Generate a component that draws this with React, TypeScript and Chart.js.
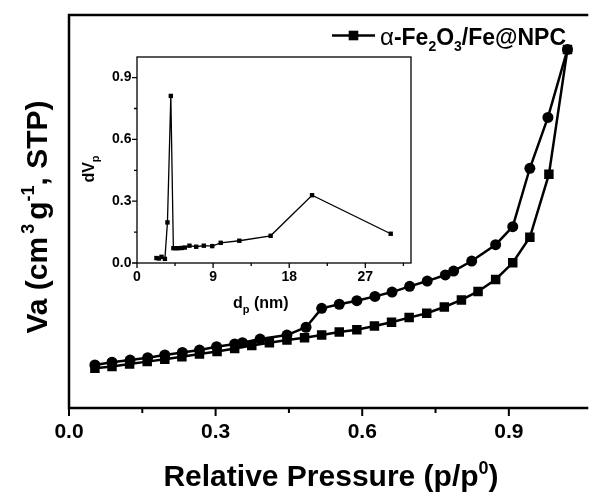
import React, { useEffect, useRef } from 'react';
import { Chart, registerables } from 'chart.js';

Chart.register(...registerables);

// ---- Main isotherm data (Relative pressure vs adsorbed volume) ----
const adsP = [0.053, 0.088, 0.124, 0.160, 0.196, 0.231, 0.267, 0.303, 0.339, 0.374, 0.410, 0.446, 0.482, 0.517, 0.553, 0.589, 0.625, 0.660, 0.696, 0.732, 0.768, 0.803, 0.837, 0.873, 0.908, 0.943, 0.982, 1.020];
const adsVa = [20.2, 21.1, 22.4, 23.6, 24.8, 26.1, 27.5, 28.7, 30.3, 31.8, 33.2, 34.6, 35.8, 37.1, 38.7, 39.8, 41.7, 43.6, 46.0, 48.2, 51.4, 55.0, 59.3, 65.4, 73.9, 86.9, 118.9, 182.5];
const desP = [0.053, 0.088, 0.125, 0.161, 0.196, 0.232, 0.267, 0.302, 0.339, 0.355, 0.391, 0.446, 0.485, 0.517, 0.553, 0.589, 0.626, 0.661, 0.697, 0.733, 0.770, 0.787, 0.824, 0.873, 0.908, 0.943, 0.980, 1.020];
const desVa = [21.9, 23.3, 24.4, 25.6, 27.0, 28.3, 29.5, 31.2, 32.6, 33.2, 35.1, 37.1, 41.1, 50.7, 52.8, 54.6, 56.8, 59.0, 61.9, 64.6, 67.7, 69.7, 74.8, 83.1, 92.3, 122.0, 147.9, 182.5];
const mainXTicks = [0, 0.3, 0.6, 0.9];
const mainXMinor = [0.15, 0.45, 0.75];

// ---- Inset pore size distribution ----
const poreD = [2.3, 2.6, 2.9, 3.3, 3.6, 4.0, 4.3, 4.6, 4.9, 5.3, 5.65, 6.2, 7.0, 7.9, 8.9, 9.9, 12.1, 15.8, 20.7, 30.0];
const poreDV = [0.024, 0.022, 0.03, 0.02, 0.197, 0.811, 0.072, 0.072, 0.072, 0.073, 0.075, 0.084, 0.079, 0.084, 0.082, 0.098, 0.108, 0.132, 0.329, 0.142];
const insetXTicks = [0, 9, 18, 27];
const insetXMinor = [4.5, 13.5, 22.5, 31.5];
const insetYTicks = [0, 0.3, 0.6, 0.9];
const insetYMinor = [0.15, 0.45, 0.75];

const FONT = '"Liberation Sans", Arial, Helvetica, sans-serif';

type Seg = { t: string; size: number; dy?: number; weight?: string; gap?: number };

function segFont(s: Seg) {
  return `${s.weight ?? 'bold'} ${s.size}px ${FONT}`;
}
function richWidth(ctx: CanvasRenderingContext2D, segs: Seg[]) {
  let w = 0;
  for (const s of segs) {
    ctx.font = segFont(s);
    w += ctx.measureText(s.t).width + (s.gap ?? 0);
  }
  return w;
}
function drawRich(ctx: CanvasRenderingContext2D, segs: Seg[], x: number, y: number, opts: { rotate?: boolean; align?: 'center' | 'left' } = {}) {
  ctx.save();
  ctx.translate(x, y);
  if (opts.rotate) ctx.rotate(-Math.PI / 2);
  const w = richWidth(ctx, segs);
  let cx = (opts.align ?? 'center') === 'center' ? -w / 2 : 0;
  ctx.textBaseline = 'alphabetic';
  ctx.textAlign = 'left';
  ctx.fillStyle = '#000';
  for (const s of segs) {
    ctx.font = segFont(s);
    ctx.fillText(s.t, cx, s.dy ?? 0);
    cx += ctx.measureText(s.t).width + (s.gap ?? 0);
  }
  ctx.restore();
}

const mainDecor = {
  id: 'mainDecor',
  afterDraw(chart: any) {
    const { ctx, chartArea: a, scales } = chart;
    const xs = scales.x;
    ctx.save();
    ctx.strokeStyle = '#000';
    ctx.lineWidth = 2.5;
    ctx.lineCap = 'butt';
    // frame: left, bottom, top
    ctx.beginPath();
    ctx.moveTo(a.left, a.top);
    ctx.lineTo(a.left, a.bottom);
    ctx.moveTo(a.left - 1.25, a.bottom);
    ctx.lineTo(a.right, a.bottom);
    ctx.moveTo(a.left - 1.25, a.top);
    ctx.lineTo(a.right, a.top);
    ctx.stroke();
    // ticks
    ctx.lineWidth = 2;
    ctx.beginPath();
    for (const v of mainXTicks) {
      const px = xs.getPixelForValue(v);
      ctx.moveTo(px, a.bottom);
      ctx.lineTo(px, a.bottom + 8);
    }
    for (const v of mainXMinor) {
      const px = xs.getPixelForValue(v);
      ctx.moveTo(px, a.bottom);
      ctx.lineTo(px, a.bottom + 5);
    }
    ctx.stroke();
    // legend
    ctx.lineWidth = 2.5;
    ctx.beginPath();
    ctx.moveTo(332, 35.5);
    ctx.lineTo(375, 35.5);
    ctx.stroke();
    ctx.fillStyle = '#000';
    ctx.fillRect(353.5 - 4.8, 35.5 - 4.8, 9.6, 9.6);
    drawRich(ctx, [
      { t: 'α', size: 24, weight: 'normal' },
      { t: '-Fe', size: 23 },
      { t: '2', size: 14, dy: 6 },
      { t: 'O', size: 23 },
      { t: '3', size: 14, dy: 6 },
      { t: '/Fe@NPC', size: 23 },
    ], 380, 44.5, { align: 'left' });
    // axis titles
    drawRich(ctx, [
      { t: 'Relative Pressure (p/p', size: 30 },
      { t: '0', size: 18, dy: -12 },
      { t: ')', size: 30 },
    ], 331, 486);
    drawRich(ctx, [
      { t: 'Va (cm', size: 30, gap: 3 },
      { t: '3', size: 18, dy: -13, gap: 4 },
      { t: 'g', size: 30 },
      { t: '-1', size: 18, dy: -13 },
      { t: ', STP)', size: 30 },
    ], 47, 217, { rotate: true });
    ctx.restore();
  },
};

const insetDecor = {
  id: 'insetDecor',
  afterDraw(chart: any) {
    const { ctx, chartArea: a, scales } = chart;
    const xs = scales.x;
    const ys = scales.y;
    ctx.save();
    ctx.strokeStyle = '#000';
    ctx.lineWidth = 1.3;
    ctx.strokeRect(a.left, a.top, a.right - a.left, a.bottom - a.top);
    ctx.beginPath();
    for (const v of insetXTicks) {
      const px = xs.getPixelForValue(v);
      ctx.moveTo(px, a.bottom);
      ctx.lineTo(px, a.bottom + 5);
    }
    for (const v of insetXMinor) {
      const px = xs.getPixelForValue(v);
      ctx.moveTo(px, a.bottom);
      ctx.lineTo(px, a.bottom + 3);
    }
    for (const v of insetYTicks) {
      const py = ys.getPixelForValue(v);
      ctx.moveTo(a.left, py);
      ctx.lineTo(a.left - 5, py);
    }
    for (const v of insetYMinor) {
      const py = ys.getPixelForValue(v);
      ctx.moveTo(a.left, py);
      ctx.lineTo(a.left - 3, py);
    }
    ctx.stroke();
    drawRich(ctx, [
      { t: 'd', size: 16 },
      { t: 'p', size: 11, dy: 5 },
      { t: ' (nm)', size: 16 },
    ], 233, 308, { align: 'left' });
    drawRich(ctx, [
      { t: 'dV', size: 16 },
      { t: 'p', size: 11, dy: 5 },
    ], 94, 169, { rotate: true });
    ctx.restore();
  },
};

export default function App() {
  const mainRef = useRef<HTMLCanvasElement>(null);
  const insetRef = useRef<HTMLCanvasElement>(null);

  useEffect(() => {
    const main = new Chart(mainRef.current as HTMLCanvasElement, {
      type: 'line',
      data: {
        datasets: [
          {
            label: 'adsorption',
            data: adsP.map((p, i) => ({ x: p, y: adsVa[i] })),
            borderColor: '#000',
            backgroundColor: '#000',
            borderWidth: 2.5,
            pointStyle: 'rect',
            pointRadius: 6.7,
            pointBorderWidth: 0,
            tension: 0,
          },
          {
            label: 'desorption',
            data: desP.map((p, i) => ({ x: p, y: desVa[i] })),
            borderColor: '#000',
            backgroundColor: '#000',
            borderWidth: 2.5,
            pointStyle: 'circle',
            pointRadius: 5.5,
            pointBorderWidth: 0,
            tension: 0,
          },
        ],
      },
      options: {
        animation: false,
        responsive: false,
        events: [],
        layout: { padding: { top: 15, left: 0, right: 0, bottom: 0 } },
        plugins: { legend: { display: false }, tooltip: { enabled: false } },
        scales: {
          x: {
            type: 'linear',
            min: 0,
            max: 1.0626,
            afterBuildTicks: (ax: any) => {
              ax.ticks = mainXTicks.map((v) => ({ value: v }));
            },
            ticks: {
              callback: (v: any) => Number(v).toFixed(1),
              font: { family: FONT, size: 21, weight: 'bold' },
              color: '#000',
              padding: 12,
              maxRotation: 0,
              autoSkip: false,
            },
            grid: { display: false, drawTicks: false },
            border: { display: false },
            afterFit: (s: any) => {
              s.height = 87;
            },
          },
          y: {
            type: 'linear',
            min: 0,
            max: 200,
            ticks: { display: false },
            grid: { display: false, drawTicks: false },
            border: { display: false },
            afterFit: (s: any) => {
              s.width = 69;
            },
          },
        },
      } as any,
      plugins: [mainDecor],
    });

    const inset = new Chart(insetRef.current as HTMLCanvasElement, {
      type: 'line',
      data: {
        datasets: [
          {
            label: 'dVp',
            data: poreD.map((d, i) => ({ x: d, y: poreDV[i] })),
            borderColor: '#000',
            backgroundColor: '#000',
            borderWidth: 1.3,
            pointStyle: 'rect',
            pointRadius: 3.1,
            pointBorderWidth: 0,
            tension: 0,
          },
        ],
      },
      options: {
        animation: false,
        responsive: false,
        events: [],
        layout: { padding: { top: 57, left: 0, right: 184, bottom: 0 } },
        plugins: { legend: { display: false }, tooltip: { enabled: false } },
        scales: {
          x: {
            type: 'linear',
            min: 0,
            max: 32.4,
            afterBuildTicks: (ax: any) => {
              ax.ticks = insetXTicks.map((v) => ({ value: v }));
            },
            ticks: {
              callback: (v: any) => String(v),
              font: { family: FONT, size: 14, weight: 'bold' },
              color: '#000',
              padding: 5.6,
              maxRotation: 0,
              autoSkip: false,
            },
            grid: { display: false, drawTicks: false },
            border: { display: false },
            afterFit: (s: any) => {
              s.height = 232;
            },
          },
          y: {
            type: 'linear',
            min: 0,
            max: 1.0,
            afterBuildTicks: (ax: any) => {
              ax.ticks = insetYTicks.map((v) => ({ value: v }));
            },
            ticks: {
              callback: (v: any) => Number(v).toFixed(1),
              font: { family: FONT, size: 14, weight: 'bold' },
              color: '#000',
              padding: 5.5,
              autoSkip: false,
            },
            grid: { display: false, drawTicks: false },
            border: { display: false },
            afterFit: (s: any) => {
              s.width = 137;
            },
          },
        },
      } as any,
      plugins: [insetDecor],
    });

    return () => {
      main.destroy();
      inset.destroy();
    };
  }, []);

  return (
    <div style={{ position: 'fixed', left: 0, top: 0, width: 595, height: 495, background: '#fff', overflow: 'hidden' }}>
      <canvas ref={mainRef} width={595} height={495} style={{ position: 'absolute', left: 0, top: 0 }} />
      <canvas ref={insetRef} width={595} height={495} style={{ position: 'absolute', left: 0, top: 0 }} />
    </div>
  );
}
